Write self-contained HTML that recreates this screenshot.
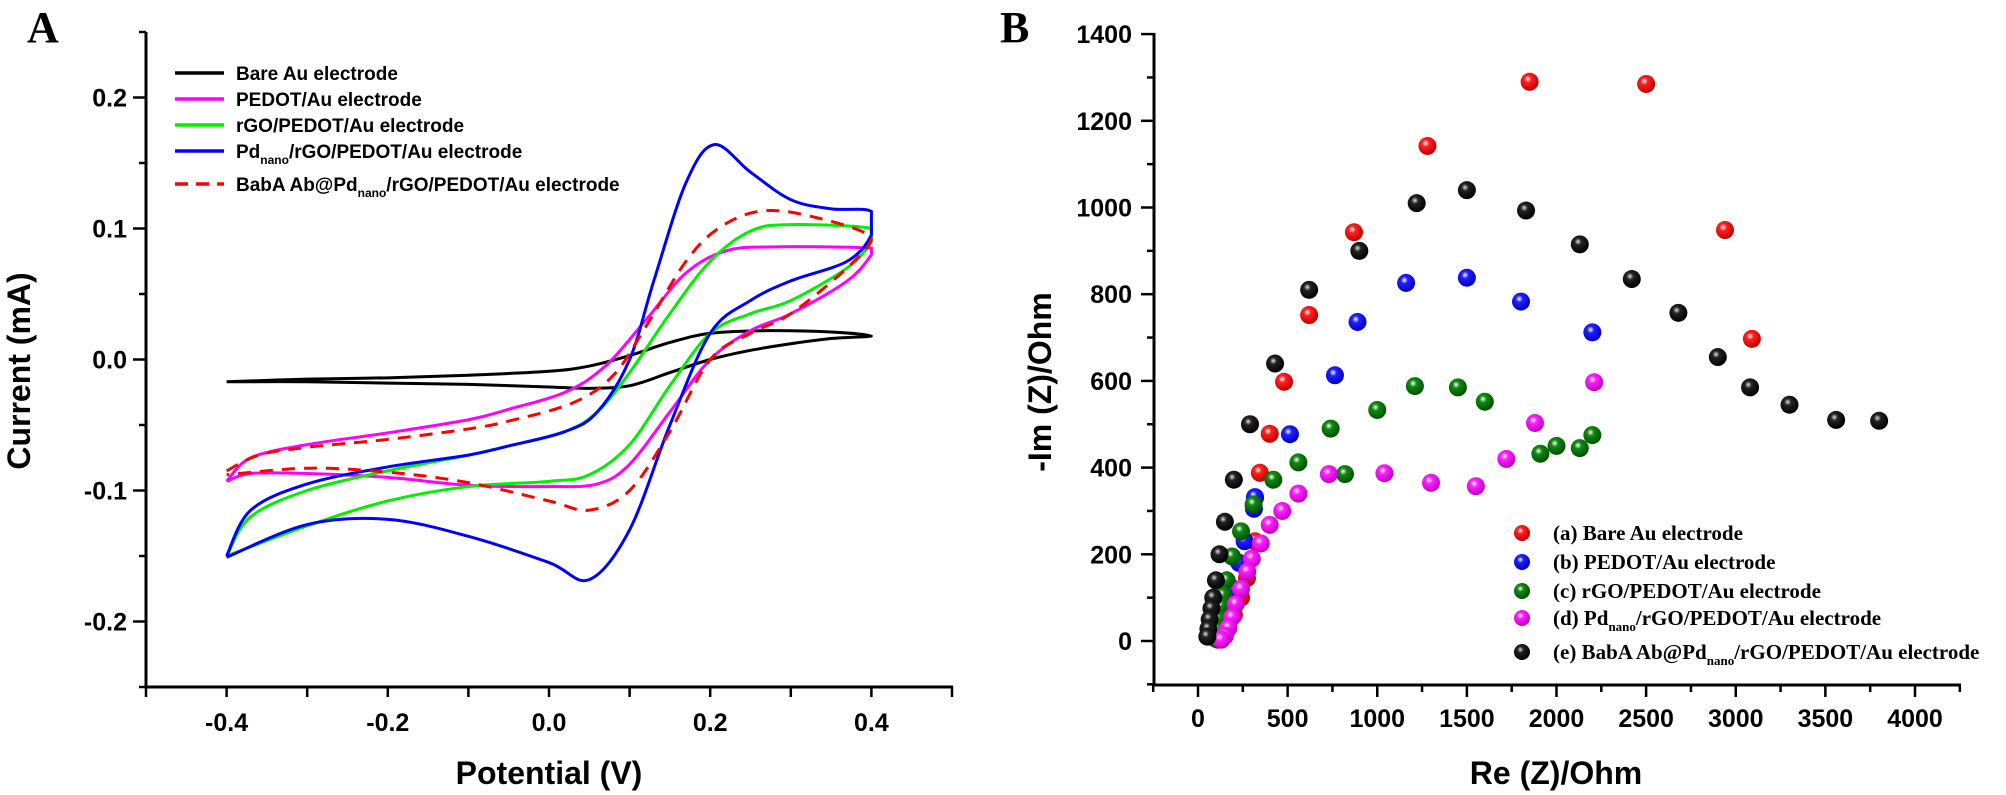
<!DOCTYPE html>
<html><head><meta charset="utf-8"><style>
html,body{margin:0;padding:0;background:#fff;width:2006px;height:795px;overflow:hidden}
svg{display:block}
.t{font-family:"Liberation Sans",sans-serif;font-weight:bold;fill:#000}
.s{font-family:"Liberation Serif",serif;font-weight:bold;fill:#000}
</style></head><body>
<svg id="svg" width="2006" height="795" viewBox="0 0 2006 795" xmlns="http://www.w3.org/2000/svg">
<defs>
<radialGradient id="gr" cx="0.4" cy="0.35" r="0.65"><stop offset="0" stop-color="#fff"/><stop offset="0.3" stop-color="#ff2020"/><stop offset="1" stop-color="#c00000"/></radialGradient>
<radialGradient id="gb" cx="0.4" cy="0.35" r="0.65"><stop offset="0" stop-color="#fff"/><stop offset="0.3" stop-color="#2020ff"/><stop offset="1" stop-color="#0000c0"/></radialGradient>
<radialGradient id="gg" cx="0.4" cy="0.35" r="0.65"><stop offset="0" stop-color="#fff"/><stop offset="0.3" stop-color="#108a10"/><stop offset="1" stop-color="#005000"/></radialGradient>
<radialGradient id="gm" cx="0.4" cy="0.35" r="0.65"><stop offset="0" stop-color="#fff"/><stop offset="0.3" stop-color="#ff20ff"/><stop offset="1" stop-color="#c000c0"/></radialGradient>
<radialGradient id="gk" cx="0.4" cy="0.35" r="0.65"><stop offset="0" stop-color="#ddd"/><stop offset="0.3" stop-color="#222"/><stop offset="1" stop-color="#000"/></radialGradient>
</defs>
<text class="s" x="27" y="42" font-size="44">A</text>
<g id="A"></g>
<text class="t" font-size="32" transform="translate(30,371) rotate(-90)" text-anchor="middle">Current (mA)</text>
<text class="t" x="549" y="784" font-size="32" text-anchor="middle">Potential (V)</text>
<g stroke-width="3.5" fill="none">
<line x1="175" y1="73" x2="224" y2="73" stroke="#000"/>
<line x1="175" y1="99" x2="224" y2="99" stroke="#ff00ff"/>
<line x1="175" y1="125" x2="224" y2="125" stroke="#00ee00"/>
<line x1="175" y1="151" x2="224" y2="151" stroke="#0000ff"/>
<line x1="175" y1="184" x2="224" y2="184" stroke="#ff0000" stroke-dasharray="13,8"/>
</g>
<g class="t" font-size="19">
<text x="236" y="80">Bare Au electrode</text>
<text x="236" y="106">PEDOT/Au electrode</text>
<text x="236" y="132">rGO/PEDOT/Au electrode</text>
<text x="236" y="158">Pd<tspan font-size="12" dy="6">nano</tspan><tspan dy="-6">/rGO/PEDOT/Au electrode</tspan></text>
<text x="236" y="191">BabA Ab@Pd<tspan font-size="12" dy="6">nano</tspan><tspan dy="-6">/rGO/PEDOT/Au electrode</tspan></text>
</g>
<text class="s" x="1000" y="42" font-size="44">B</text>
<g id="B"></g>
<text class="t" font-size="32" transform="translate(1051,382) rotate(-90)" text-anchor="middle">-Im (Z)/Ohm</text>
<text class="t" x="1556" y="784" font-size="32" text-anchor="middle">Re (Z)/Ohm</text>
<g class="s" font-size="21">
<circle cx="1522" cy="533" r="8" fill="url(#gr)"/><text x="1553" y="540">(a) Bare Au electrode</text>
<circle cx="1522" cy="562" r="8" fill="url(#gb)"/><text x="1553" y="569">(b) PEDOT/Au electrode</text>
<circle cx="1522" cy="591" r="8" fill="url(#gg)"/><text x="1553" y="598">(c) rGO/PEDOT/Au electrode</text>
<circle cx="1522" cy="618" r="8" fill="url(#gm)"/><text x="1553" y="625">(d) Pd<tspan font-size="13" dy="6">nano</tspan><tspan dy="-6">/rGO/PEDOT/Au electrode</tspan></text>
<circle cx="1522" cy="652" r="8" fill="url(#gk)"/><text x="1553" y="659">(e) BabA Ab@Pd<tspan font-size="13" dy="6">nano</tspan><tspan dy="-6">/rGO/PEDOT/Au electrode</tspan></text>
</g>
</svg>
<script>
var NS="http://www.w3.org/2000/svg";
function el(p,t,a,txt){var e=document.createElementNS(NS,t);for(var k in a)e.setAttribute(k,a[k]);if(txt!==undefined)e.textContent=txt;p.appendChild(e);return e;}
var A=document.getElementById("A");
function ax(v){return 549+806*v;} function ay(v){return 359.5-1310*v;}
el(A,"line",{x1:146,y1:32,x2:146,y2:688,stroke:"#000","stroke-width":3});
el(A,"line",{x1:144.5,y1:687,x2:953,y2:687,stroke:"#000","stroke-width":3});
for(var i=-5;i<=5;i++){var v=i/10,x=ax(v);el(A,"line",{x1:x,y1:687,x2:x,y2:697,stroke:"#000","stroke-width":2.5});
 if(i%2==0&&Math.abs(i)<5)el(A,"text",{x:x,y:731,"font-size":25,"text-anchor":"middle",class:"t"},v.toFixed(1));}
for(var i=-5;i<=5;i++){var v=i/20,y=ay(v);var maj=(i%2==0);el(A,"line",{x1:maj?133:139,y1:y,x2:146,y2:y,stroke:"#000","stroke-width":2.5});
 if(maj&&Math.abs(i)<5)el(A,"text",{x:127,y:y+9,"font-size":25,"text-anchor":"end",class:"t"},v.toFixed(1));}
var XL=ax(-0.4),XR=ax(0.4);
function cl(x){return Math.max(XL,Math.min(XR,x));}
function path(pts){var p=pts.map(function(q){return [ax(q[0]),ay(q[1])];});var d="M"+p[0][0]+","+p[0][1];
 for(var i=0;i<p.length-1;i++){var p0=p[i-1]||p[i],p1=p[i],p2=p[i+1],p3=p[i+2]||p[i+1];
  d+=" C"+cl(p1[0]+(p2[0]-p0[0])/6)+","+(p1[1]+(p2[1]-p0[1])/6)+" "+cl(p2[0]-(p3[0]-p1[0])/6)+","+(p2[1]-(p3[1]-p1[1])/6)+" "+p2[0]+","+p2[1];}
 return d;}
var curves=[
["#000",null,[[-0.4,-0.017],[-0.3,-0.015],[-0.2,-0.014],[-0.1,-0.012],[0,-0.009],[0.05,-0.005],[0.1,0.003],[0.15,0.013],[0.2,0.02],[0.27,0.022],[0.35,0.021],[0.4,0.018],[0.35,0.016],[0.3,0.012],[0.25,0.007],[0.2,0.0],[0.15,-0.01],[0.1,-0.02],[0.05,-0.022],[0,-0.021],[-0.1,-0.019],[-0.2,-0.018],[-0.3,-0.017],[-0.4,-0.017]]],
["#ff00ff",null,[[-0.4,-0.093],[-0.37,-0.075],[-0.3,-0.065],[-0.2,-0.056],[-0.1,-0.046],[-0.05,-0.038],[0.02,-0.025],[0.07,-0.005],[0.12,0.03],[0.17,0.066],[0.22,0.083],[0.28,0.086],[0.4,0.085],[0.4,0.08],[0.37,0.06],[0.3,0.035],[0.25,0.022],[0.2,0.0],[0.15,-0.04],[0.1,-0.08],[0.06,-0.095],[0.0,-0.097],[-0.1,-0.096],[-0.2,-0.09],[-0.3,-0.087],[-0.37,-0.087],[-0.4,-0.093]]],
["#00ee00",null,[[-0.4,-0.15],[-0.37,-0.12],[-0.3,-0.1],[-0.2,-0.085],[-0.1,-0.073],[-0.05,-0.066],[0.02,-0.055],[0.06,-0.04],[0.1,-0.01],[0.15,0.035],[0.2,0.075],[0.25,0.098],[0.3,0.103],[0.4,0.1],[0.4,0.09],[0.37,0.07],[0.3,0.045],[0.25,0.035],[0.2,0.02],[0.15,-0.02],[0.1,-0.065],[0.05,-0.088],[0.0,-0.093],[-0.1,-0.097],[-0.2,-0.108],[-0.3,-0.127],[-0.4,-0.15]]],
["#0000ff",null,[[-0.4,-0.15],[-0.37,-0.115],[-0.3,-0.095],[-0.2,-0.082],[-0.1,-0.073],[-0.05,-0.066],[0.02,-0.055],[0.06,-0.04],[0.1,0.0],[0.13,0.06],[0.17,0.135],[0.205,0.164],[0.25,0.143],[0.3,0.122],[0.35,0.115],[0.4,0.113],[0.4,0.095],[0.37,0.075],[0.3,0.06],[0.25,0.045],[0.2,0.02],[0.15,-0.05],[0.1,-0.13],[0.05,-0.168],[0.0,-0.155],[-0.1,-0.135],[-0.2,-0.122],[-0.3,-0.126],[-0.4,-0.151]]],
["#ff0000","13,9",[[-0.4,-0.085],[-0.36,-0.073],[-0.3,-0.067],[-0.2,-0.061],[-0.1,-0.053],[-0.05,-0.047],[0.03,-0.033],[0.08,-0.012],[0.12,0.025],[0.17,0.075],[0.21,0.1],[0.26,0.113],[0.32,0.11],[0.4,0.093],[0.37,0.07],[0.3,0.035],[0.25,0.02],[0.2,0.0],[0.15,-0.055],[0.1,-0.1],[0.05,-0.115],[0.0,-0.108],[-0.1,-0.094],[-0.2,-0.086],[-0.3,-0.083],[-0.4,-0.088]]]
];
curves.forEach(function(c){var a={d:path(c[2]),fill:"none",stroke:c[0],"stroke-width":3};if(c[1])a["stroke-dasharray"]=c[1];el(A,"path",a);});
var B=document.getElementById("B");
function bx(v){return 1198+0.17925*v;} function by(v){return 641-0.4335*v;}
el(B,"line",{x1:1154,y1:33,x2:1154,y2:686,stroke:"#000","stroke-width":3});
el(B,"line",{x1:1152.5,y1:685,x2:1961,y2:685,stroke:"#000","stroke-width":3});
for(var v=-250;v<=4250;v+=250){var x=bx(v);var maj=(v%500==0);el(B,"line",{x1:x,y1:685,x2:x,y2:maj?697:692,stroke:"#000","stroke-width":2.5});
 if(maj&&v>=0&&v<=4000)el(B,"text",{x:x,y:727,"font-size":25,"text-anchor":"middle",class:"t"},String(v));}
for(var v=-100;v<=1400;v+=100){var y=by(v);var maj=(v%200==0);el(B,"line",{x1:maj?1141:1147,y1:y,x2:1154,y2:y,stroke:"#000","stroke-width":2.5});
 if(maj&&v>=0)el(B,"text",{x:1132,y:y+9,"font-size":25,"text-anchor":"end",class:"t"},String(v));}
var sets=[
["gr",[[1850,1290],[2500,1285],[1280,1142],[870,943],[2940,948],[3090,697],[620,752],[480,598],[400,478],[345,388],[318,330],[318,230],[273,145],[240,100],[200,60],[160,30],[130,12],[110,3]]],
["gb",[[1161,826],[1500,838],[1802,783],[890,736],[764,613],[2200,712],[513,477],[318,332],[312,305],[260,230],[230,180],[200,120],[170,70],[145,35],[125,15],[110,5]]],
["gg",[[1210,588],[1450,585],[1600,552],[1000,533],[740,490],[560,412],[420,372],[310,315],[820,385],[1910,432],[2000,450],[2130,445],[2200,475],[240,253],[190,195],[160,140],[140,105],[130,80],[115,50],[108,25],[100,5]]],
["gm",[[2210,597],[1880,503],[1720,420],[1550,357],[1300,365],[1040,387],[730,385],[560,340],[470,300],[400,268],[350,225],[300,190],[275,160],[240,120],[210,85],[190,55],[170,30],[150,12],[130,3]]],
["gk",[[1500,1040],[1220,1010],[1830,993],[900,900],[620,810],[2130,915],[2420,835],[2680,757],[2900,655],[3080,585],[3300,545],[3560,510],[3800,508],[430,640],[290,500],[200,372],[150,275],[120,200],[100,140],[85,100],[75,75],[65,50],[58,28],[52,10]]]
];
sets.forEach(function(s){s[1].forEach(function(p){el(B,"circle",{cx:bx(p[0]),cy:by(p[1]),r:9,fill:"url(#"+s[0]+")"});});});
</script>
</body></html>
